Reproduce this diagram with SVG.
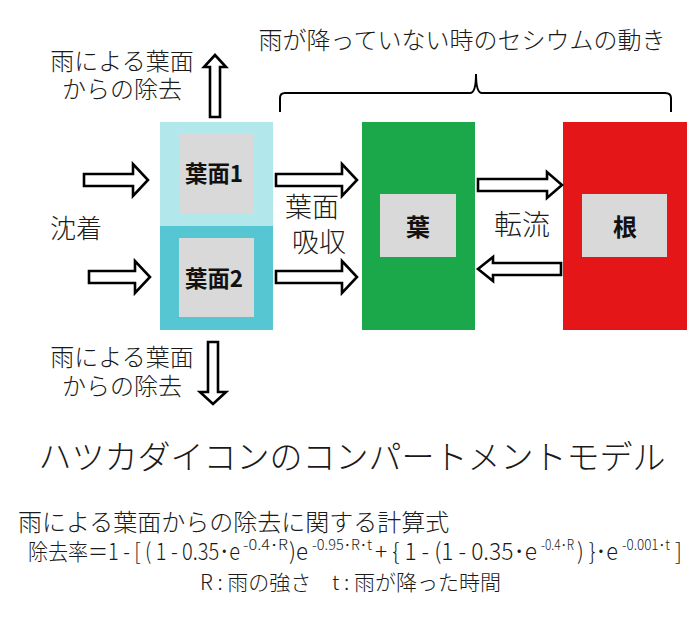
<svg xmlns="http://www.w3.org/2000/svg" width="700" height="618" viewBox="0 0 700 618">
<defs>
<style>
.t{font-family:"Noto Sans CJK JP","Noto Sans",sans-serif;font-weight:300;fill:#1a1a1a;}
.b{font-family:"Noto Sans CJK JP","Noto Sans",sans-serif;font-weight:bold;fill:#111;}
.f{font-family:"Noto Sans CJK JP","Noto Sans",sans-serif;font-weight:300;fill:#1a1a1a;font-size:23px;}
.s{font-family:"Noto Sans CJK JP","Noto Sans",sans-serif;font-weight:300;fill:#1a1a1a;font-size:14px;}
.arr{fill:#fff;stroke:#000;stroke-width:2.6;stroke-linejoin:miter;}
.inner{fill:#d9d9d9;}
</style>
</defs>
<rect width="700" height="618" fill="#fff"/>

<g id="title-top">
<text class="t" x="462" y="49" font-size="24" text-anchor="middle">雨が降っていない時のセシウムの動き</text>
<path d="M280,112 V98 Q280,93 285,93 H470 Q476,93 476,74 Q476,93 482,93 H665 Q671,93 671,98 V112" fill="none" stroke="#000" stroke-width="2"/>
</g>

<g id="leaf-surface-1">
<rect x="160" y="122" width="113" height="104" fill="#b2e7ec"/>
<rect class="inner" x="179" y="133" width="75" height="81"/>
<text class="b" x="185" y="182" font-size="23" textLength="58" lengthAdjust="spacingAndGlyphs">葉面1</text>
</g>

<g id="leaf-surface-2">
<rect x="160" y="226" width="113" height="104" fill="#57c6d3"/>
<rect class="inner" x="179" y="238" width="75" height="79"/>
<text class="b" x="185" y="287" font-size="23" textLength="58" lengthAdjust="spacingAndGlyphs">葉面2</text>
</g>

<g id="leaf">
<rect x="362" y="122" width="113" height="208" fill="#1ba84a"/>
<rect class="inner" x="380" y="194" width="76" height="63"/>
<text class="b" x="418" y="236" font-size="24" text-anchor="middle">葉</text>
</g>

<g id="root">
<rect x="563" y="122" width="124" height="208" fill="#e51617"/>
<rect class="inner" x="582" y="194" width="85" height="63"/>
<text class="b" x="625" y="236" font-size="24" text-anchor="middle">根</text>
</g>

<g id="connectors">
<polygon class="arr" points="84,174 133,174 133,164 148,180 133,196 133,186 84,186"/>
<polygon class="arr" points="89,271 135,271 135,261 150,277 135,293 135,283 89,283"/>
<polygon class="arr" points="276,174 342,174 342,164 357,180 342,196 342,186 276,186"/>
<polygon class="arr" points="276,271 342,271 342,261 357,277 342,293 342,283 276,283"/>
<polygon class="arr" points="478,179 547,179 547,172 562,185 547,198 547,191 478,191"/>
<polygon class="arr" points="561,263 493,263 493,257 478,269 493,281 493,275 561,275"/>
<polygon class="arr" points="210,117 210,67 204,67 215,55 226,67 220,67 220,117"/>
<polygon class="arr" points="208,342 208,392 200,392 213,404 226,392 218,392 218,342"/>
</g>

<g id="labels">
<text class="t" font-size="24" text-anchor="middle"><tspan x="122" y="70">雨による葉面</tspan><tspan x="122" y="98">からの除去</tspan></text>
<text class="t" font-size="24" text-anchor="middle"><tspan x="122" y="366">雨による葉面</tspan><tspan x="122" y="395">からの除去</tspan></text>
<text class="t" x="76" y="238" font-size="26" text-anchor="middle">沈着</text>
<text class="t" font-size="27" text-anchor="middle"><tspan x="312" y="217">葉面</tspan><tspan x="319" y="252">吸収</tspan></text>
<text class="t" x="522" y="235" font-size="28" text-anchor="middle">転流</text>
</g>

<g id="caption">
<text class="t" x="352" y="469" font-size="33" text-anchor="middle">ハツカダイコンのコンパートメントモデル</text>
<text class="t" x="18" y="531" font-size="24">雨による葉面からの除去に関する計算式</text>
<text class="f" x="28" y="560" textLength="212" lengthAdjust="spacingAndGlyphs">除去率＝1 - [ ( 1 - 0.35･e</text>
<text class="s" x="243" y="550" textLength="45" lengthAdjust="spacingAndGlyphs">-0.4･R</text>
<text class="f" x="289" y="560" textLength="19" lengthAdjust="spacingAndGlyphs">)e</text>
<text class="s" x="312" y="550" textLength="60" lengthAdjust="spacingAndGlyphs">-0.95･R･t</text>
<text class="f" x="375" y="560" textLength="162" lengthAdjust="spacingAndGlyphs">+ { 1 - (1 - 0.35･e</text>
<text class="s" x="541" y="550" textLength="33" lengthAdjust="spacingAndGlyphs">-0.4･R</text>
<text class="f" x="577" y="560" textLength="41" lengthAdjust="spacingAndGlyphs">) }･e</text>
<text class="s" x="622" y="550" textLength="48" lengthAdjust="spacingAndGlyphs">-0.001･t</text>
<text class="f" x="675" y="560" textLength="7" lengthAdjust="spacingAndGlyphs">]</text>
<text class="t" x="200" y="590" font-size="21">R : 雨の強さ</text>
<text class="t" x="332" y="590" font-size="21">t : 雨が降った時間</text>
</g>
</svg>
